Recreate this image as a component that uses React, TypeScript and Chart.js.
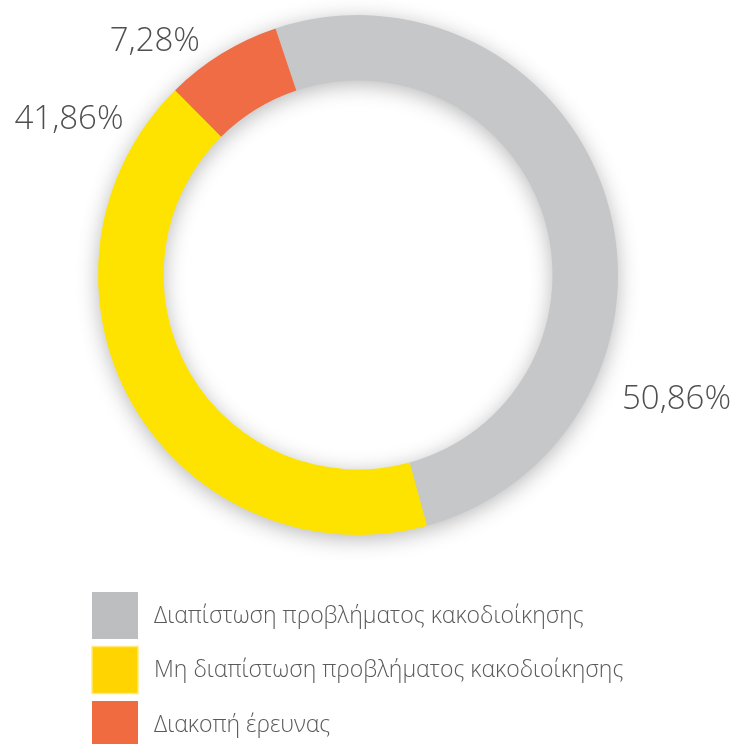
import React, { useEffect, useRef } from "react";
import { Chart, registerables } from "chart.js";

Chart.register(...registerables);

const categories = [
  "Διαπίστωση προβλήματος κακοδιοίκησης",
  "Μη διαπίστωση προβλήματος κακοδιοίκησης",
  "Διακοπή έρευνας",
];
const shares = [50.86, 41.86, 7.28];
const valueLabels = ["50,86%", "41,86%", "7,28%"];

const ringColors = ["#C5C7C9", "#FEE300", "#EF6C44"];
const legendColors = ["#BDBEC0", "#FFD400", "#F06B40"];
// label placement: fraction along each arc, distance as ratio of outer radius
const labelFrac = [0.709, 0.887, 0.14];
const labelDist = [1.315, 1.262, 1.19];

const shadowPlugin = {
  id: "ringShadow",
  beforeDatasetsDraw(chart: any) {
    const meta = chart.getDatasetMeta(0);
    const arc = meta.data[0];
    if (!arc) return;
    const { x, y, outerRadius, innerRadius } = arc.getProps(["x", "y", "outerRadius", "innerRadius"], true);
    const ctx = chart.ctx;
    ctx.save();
    ctx.shadowColor = "rgba(0,0,0,0.3)";
    ctx.shadowBlur = 22;
    ctx.shadowOffsetX = 0;
    ctx.shadowOffsetY = 4;
    ctx.fillStyle = "#c8c8c8";
    ctx.beginPath();
    ctx.arc(x, y, outerRadius - 1, 0, Math.PI * 2, false);
    ctx.arc(x, y, innerRadius + 1, 0, Math.PI * 2, true);
    ctx.closePath();
    ctx.fill();
    ctx.restore();
  },
};

const labelPlugin = {
  id: "outerLabels",
  afterDatasetsDraw(chart: any) {
    const ctx = chart.ctx;
    const meta = chart.getDatasetMeta(0);
    ctx.save();
    ctx.font = "300 33px 'Open Sans'";
    ctx.fillStyle = "#4f4f4f";
    ctx.textAlign = "center";
    ctx.textBaseline = "middle";
    meta.data.forEach((el: any, i: number) => {
      const { x, y, startAngle, endAngle, outerRadius } = el.getProps(
        ["x", "y", "startAngle", "endAngle", "outerRadius"],
        true
      );
      const a = startAngle + labelFrac[i] * (endAngle - startAngle);
      const r = outerRadius * labelDist[i];
      ctx.fillText(valueLabels[i], x + r * Math.cos(a), y + r * Math.sin(a));
    });
    ctx.restore();
  },
};

const legendPlugin = {
  id: "boxLegend",
  afterDraw(chart: any) {
    const ctx = chart.ctx;
    const labels = chart.data.labels as string[];
    ctx.save();
    ctx.font = "300 23px 'Open Sans'";
    ctx.textAlign = "left";
    ctx.textBaseline = "middle";
    labels.forEach((lab, i) => {
      const top = 592 + i * 54.5;
      ctx.fillStyle = legendColors[i];
      ctx.fillRect(92, top, 46, 47);
      if (i === 1) {
        ctx.strokeStyle = "rgba(255,235,120,0.9)";
        ctx.lineWidth = 1.5;
        ctx.strokeRect(92, top, 46, 47);
      }
      ctx.fillStyle = "#5a5a5a";
      ctx.fillText(lab, 154, top + 24);
    });
    ctx.restore();
  },
};

export default function App() {
  const ref = useRef<HTMLCanvasElement | null>(null);
  useEffect(() => {
    if (!ref.current) return;
    const chart = new Chart(ref.current, {
      type: "doughnut",
      data: {
        labels: categories,
        datasets: [
          {
            data: shares,
            backgroundColor: ringColors,
            borderWidth: 0,
            hoverOffset: 0,
          },
        ],
      },
      options: {
        responsive: false,
        animation: false,
        rotation: -18.5,
        cutout: "74.8%",
        layout: { padding: { left: 98, right: 120, top: 15, bottom: 209 } },
        plugins: {
          legend: { display: false },
          tooltip: { enabled: false },
          title: { display: false },
        },
        events: [],
      },
      plugins: [shadowPlugin, labelPlugin, legendPlugin],
    });
    return () => chart.destroy();
  }, []);
  return (
    <div style={{ position: "absolute", left: 0, top: 0, width: 738, height: 744, background: "#fff" }}>
      <canvas ref={ref} width={738} height={744} />
    </div>
  );
}
